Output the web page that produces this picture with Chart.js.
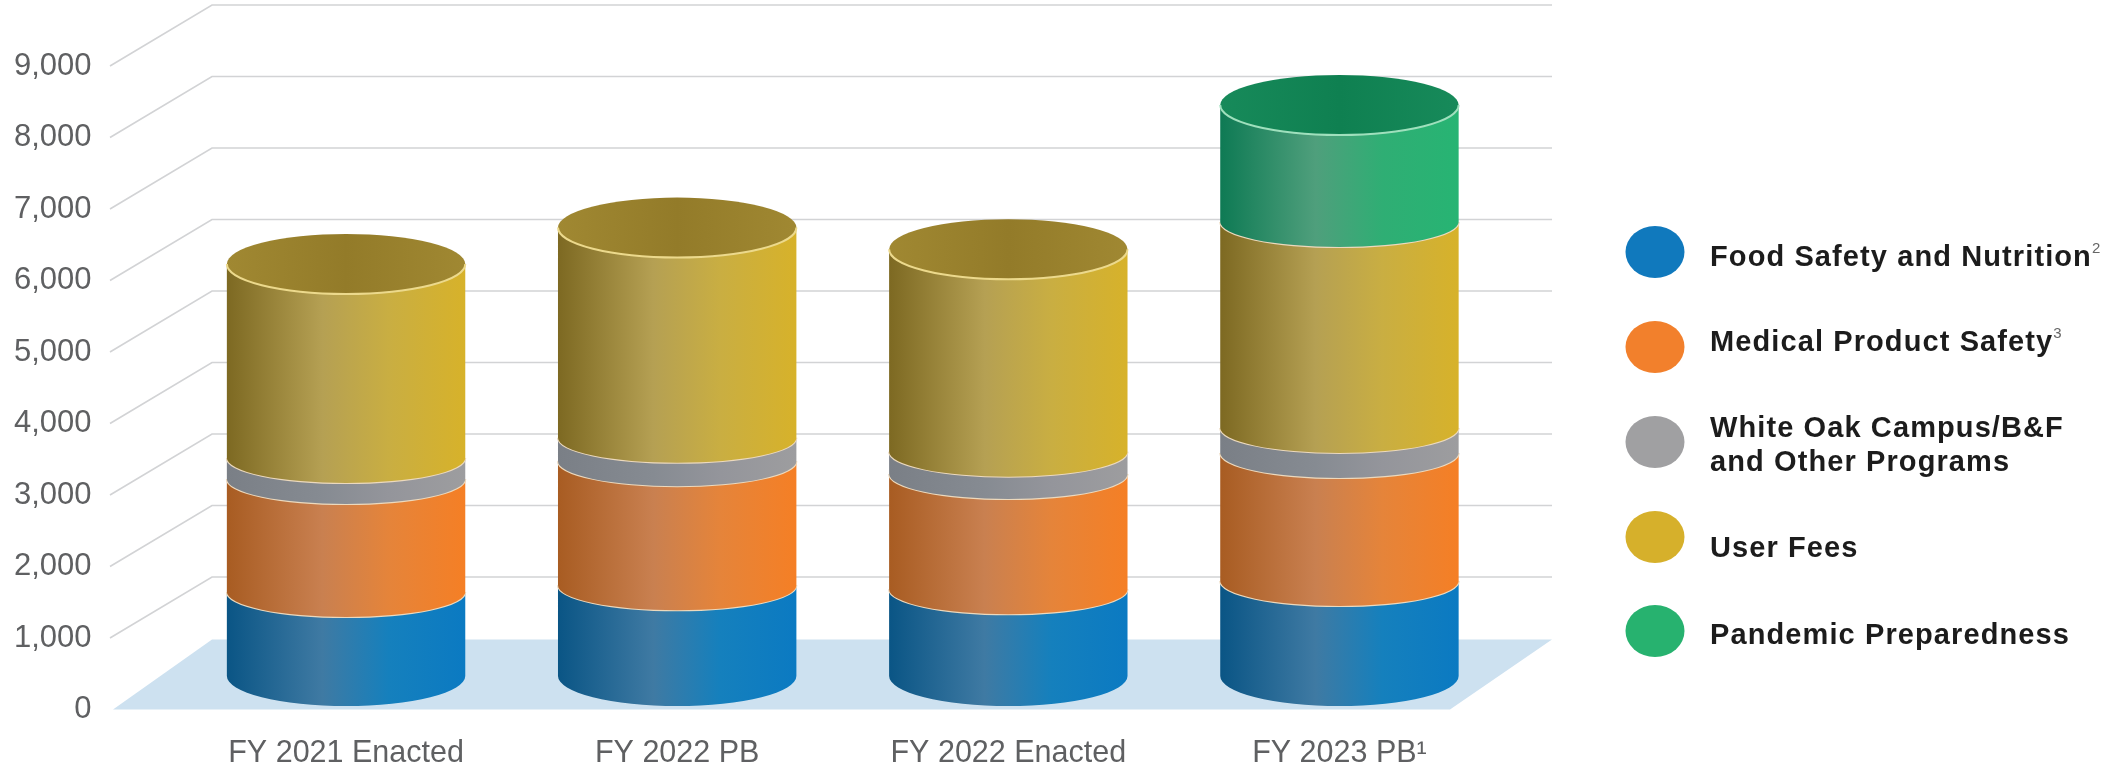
<!DOCTYPE html>
<html>
<head>
<meta charset="utf-8">
<title>FDA budget by program</title>
<script src="https://cdn.jsdelivr.net/npm/chart.js@4/dist/chart.umd.min.js"></script>
<style>
  html, body { margin: 0; background: #fff; }
  canvas { display: block; }
</style>
</head>
<body>
<canvas id="budgetChart" width="2101" height="772"></canvas>
<script>
const categories = ["FY 2021 Enacted", "FY 2022 PB", "FY 2022 Enacted", "FY 2023 PB\u00B9"];

const foodSafety = [1245, 1338, 1283, 1399];
const medicalProduct = [1580, 1736, 1612, 1790];
const whiteOak = [294, 327, 312, 350];
const userFees = [2643, 2870, 2761, 2881];
const pandemic = [0, 0, 0, 1566];

const legendLines = [
  ["Food Safety and Nutrition"],
  ["Medical Product Safety"],
  ["White Oak Campus/B&F", "and Other Programs"],
  ["User Fees"],
  ["Pandemic Preparedness"],
];
const legendNotes = ["2", "3", "", "", ""];

// gradient stops run left to right across the cylinder wall
const blue = { swatch: "#1079bd", wall: ["#0a5585", "#3f7aa3", "#1580bd", "#0b7ac2"] };
const orange = { swatch: "#f2802c", wall: ["#a85c22", "#c98050", "#e5843a", "#f57f25"] };
const gray = { swatch: "#a0a0a2", wall: ["#7a7f86", "#868b92", "#94959b", "#9d9d9f"] };
const gold = { swatch: "#d6b02b", wall: ["#7d6922", "#b5a053", "#c9ae42", "#d7b22a"], cap: "#937b29", capEdge: "#a08832" };
const green = { swatch: "#27b26f", wall: ["#0e7a54", "#4f9f7c", "#2fae74", "#27b473"], cap: "#0f8051", capEdge: "#178a5a" };

const seriesStyles = [blue, orange, gray, gold, green];

function wallGradient(ctx, left, right, stops) {
  const g = ctx.createLinearGradient(left, 0, right, 0);
  g.addColorStop(0, stops[0]);
  g.addColorStop(0.4, stops[1]);
  g.addColorStop(0.68, stops[2]);
  g.addColorStop(1, stops[3]);
  return g;
}

// floor and the bent gridlines, all hung off the y scale
const backdrop = {
  id: "backdrop",
  beforeDatasetsDraw(chart) {
    const { ctx, scales } = chart;
    const y = scales.y;
    const zero = y.getPixelForValue(0);

    ctx.save();
    ctx.fillStyle = "#cde1f0";
    ctx.beginPath();
    ctx.moveTo(113, zero);
    ctx.lineTo(212, zero - 70);
    ctx.lineTo(1552, zero - 70);
    ctx.lineTo(1450, zero);
    ctx.closePath();
    ctx.fill();

    ctx.strokeStyle = "#d2d3d5";
    ctx.lineWidth = 1.6;
    y.ticks.forEach((t) => {
      if (t.value === 0) return;
      const py = y.getPixelForValue(t.value);
      ctx.beginPath();
      ctx.moveTo(110, py);
      ctx.lineTo(212, py - 61);
      ctx.lineTo(1552, py - 61);
      ctx.stroke();
    });
    ctx.restore();
  },
};

// each bar element is redrawn as a slice of a cylinder
const cylinders = {
  id: "cylinders",
  afterDatasetsDraw(chart) {
    const { ctx } = chart;
    const frontInset = 3.5;
    const wallRy = 25;
    const endRy = 30;
    const count = chart.data.labels.length;

    for (let i = 0; i < count; i++) {
      let tops = [];
      chart.data.datasets.forEach((ds, d) => {
        if (ds.data[i]) tops.push(d);
      });

      tops.forEach((d, n) => {
        const bar = chart.getDatasetMeta(d).data[i];
        const style = seriesStyles[d];
        const rx = bar.width / 2;
        const left = bar.x - rx;
        const right = bar.x + rx;
        const isFirst = n === 0;
        const isLast = n === tops.length - 1;
        const lowRy = isFirst ? endRy : wallRy;
        const highRy = isLast ? endRy : wallRy;
        const lowY = bar.base - frontInset - lowRy;
        const highY = bar.y - frontInset - highRy;

        ctx.save();
        ctx.fillStyle = wallGradient(ctx, left, right, style.wall);
        ctx.beginPath();
        ctx.ellipse(bar.x, lowY, rx, lowRy, 0, Math.PI, 0, true);
        ctx.lineTo(right, highY);
        ctx.ellipse(bar.x, highY, rx, highRy, 0, 0, Math.PI, false);
        ctx.closePath();
        ctx.fill();

        if (isLast) {
          const capFill = ctx.createLinearGradient(left, 0, right, 0);
          capFill.addColorStop(0, style.capEdge);
          capFill.addColorStop(0.5, style.cap);
          capFill.addColorStop(1, style.capEdge);
          ctx.fillStyle = capFill;
          ctx.beginPath();
          ctx.ellipse(bar.x, highY, rx, highRy, 0, 0, Math.PI * 2);
          ctx.fill();
        }

        ctx.strokeStyle = isLast ? (d === 4 ? "#9fe0bd" : "#ecd98c") : "#ecd9bd";
        ctx.lineWidth = 2;
        ctx.beginPath();
        ctx.ellipse(bar.x, highY, rx, highRy, 0, 0, Math.PI, false);
        ctx.stroke();
        ctx.restore();
      });
    }
  },
};

// series key on the right, with the footnote marks set small
const sideKey = {
  id: "sideKey",
  afterDraw(chart) {
    const { ctx } = chart;
    const rowY = [252, 347, 442, 537, 631];
    const textY = [[258], [343], [429, 463], [549], [636]];

    ctx.save();
    legendLines.forEach((lines, i) => {
      ctx.fillStyle = seriesStyles[i].swatch;
      ctx.beginPath();
      ctx.ellipse(1655, rowY[i], 29.5, 26, 0, 0, Math.PI * 2);
      ctx.fill();

      ctx.textBaseline = "middle";
      ctx.textAlign = "left";
      lines.forEach((line, l) => {
        ctx.font = "bold 29px 'Liberation Sans', Arial, sans-serif";
        ctx.letterSpacing = "1.1px";
        ctx.fillStyle = "#1c1c1c";
        ctx.fillText(line, 1710, textY[i][l]);
        if (legendNotes[i] && l === lines.length - 1) {
          const w = ctx.measureText(line).width;
          ctx.font = "15px 'Liberation Sans', Arial, sans-serif";
          ctx.letterSpacing = "0px";
          ctx.fillStyle = "#666";
          ctx.fillText(legendNotes[i], 1710 + w, textY[i][l] - 9);
        }
      });
    });
    ctx.restore();
  },
};

const seriesData = [foodSafety, medicalProduct, whiteOak, userFees, pandemic];

new Chart(document.getElementById("budgetChart"), {
  type: "bar",
  data: {
    labels: categories,
    datasets: seriesData.map((values, i) => ({
      label: legendLines[i].join(" "),
      data: values,
      backgroundColor: "transparent",
      borderWidth: 0,
      stack: "total",
    })),
  },
  options: {
    responsive: false,
    animation: false,
    events: [],
    barPercentage: 0.72,
    categoryPercentage: 1,
    layout: { padding: { top: 66, right: 596, left: 0, bottom: 0 } },
    plugins: {
      legend: { display: false },
      tooltip: { enabled: false },
      title: { display: false },
    },
    scales: {
      x: {
        stacked: true,
        grid: { display: false, drawTicks: false },
        border: { display: false },
        ticks: {
          color: "#5f6062",
          font: { family: "'Liberation Sans', Arial, sans-serif", size: 30.5 },
          padding: 26,
          maxRotation: 0,
          autoSkip: false,
        },
        afterFit(scale) { scale.height = 62.5; },
      },
      y: {
        stacked: true,
        min: 0,
        max: 9000,
        grid: { display: false, drawTicks: false },
        border: { display: false },
        ticks: {
          stepSize: 1000,
          color: "#5f6062",
          font: { family: "'Liberation Sans', Arial, sans-serif", size: 31 },
          padding: 89,
        },
        // tick padding would otherwise also reserve room above and below the plot
        afterFit(scale) {
          scale.width = 180.5;
          scale.paddingTop = 0;
          scale.paddingBottom = 0;
        },
      },
    },
  },
  plugins: [backdrop, cylinders, sideKey],
});
</script>
</body>
</html>
